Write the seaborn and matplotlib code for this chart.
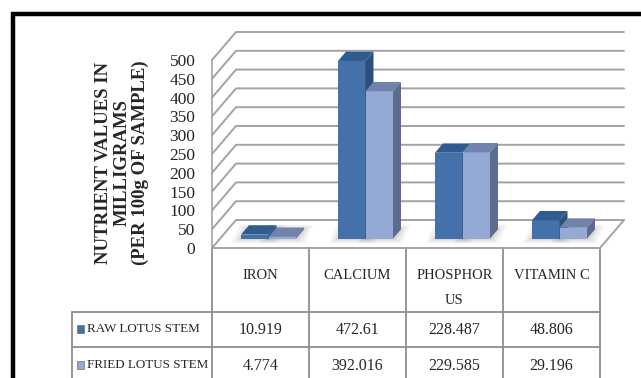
import numpy as np
import pandas as pd
import matplotlib
matplotlib.use("Agg")
import matplotlib.pyplot as plt
import seaborn as sns
from matplotlib.patches import Polygon, Rectangle

# ---- data -------------------------------------------------------------
nutrients = ["IRON", "CALCIUM", "PHOSPHORUS", "VITAMIN C"]
header_labels = ["IRON", "CALCIUM", "PHOSPHOR\nUS", "VITAMIN C"]
series = ["RAW LOTUS STEM", "FRIED LOTUS STEM"]
raw_values = [10.919, 472.61, 228.487, 48.806]
fried_values = [4.774, 392.016, 229.585, 29.196]
y_ticks = list(range(0, 501, 50))
y_label = "NUTRIENT VALUES IN\nMILLIGRAMS\n(PER 100g OF SAMPLE)"

# ---- style ------------------------------------------------------------
sns.set_style("white")
plt.rcParams["font.family"] = ["Liberation Serif", "DejaVu Serif"]

front_colors = ["#4471A9", "#94A9D4"]
top_colors = ["#2F5B90", "#7083AA"]
side_colors = ["#2C4F7E", "#5C6C8E"]
grid_color = "#A3A3A3"
table_color = "#8E8E8E"

W, H = 641, 378
fig = plt.figure(figsize=(W / 100, H / 100), dpi=100)


def px_axes(x0, y_top, x1, y_bot, z):
    ax = fig.add_axes([x0 / W, 1 - y_bot / H, (x1 - x0) / W, (y_bot - y_top) / H])
    ax.set_zorder(z)
    ax.patch.set_visible(False)
    return ax


# background layer in pixel coordinates (frame, table, titles)
bg = fig.add_axes([0, 0, 1, 1])
bg.set_xlim(0, W)
bg.set_ylim(H, 0)
bg.axis("off")
bg.set_zorder(0)

# geometry of the pseudo-3D box
left, right, base, top = 212, 600, 248, 60      # front plane of the walls
depth_x, depth_y = 24, 28                        # full depth of the floor
bar_depth = 1 / 3                                # bars sit in the middle third
n = len(nutrients)
ymax = y_ticks[-1]

# ---- front axis with ticks and the back-wall gridlines ----------------
ax_front = px_axes(left, top, right, base, 1)
ax_front.set_xlim(-0.5, n - 0.5)
ax_front.set_ylim(0, ymax)
ax_front.set_xticks([])
ax_front.set_yticks(y_ticks)
ax_front.tick_params(axis="y", length=4, width=1.2, color=grid_color, pad=8,
                     labelsize=12.5)
for s in ["top", "right", "bottom"]:
    ax_front.spines[s].set_visible(False)
ax_front.spines["left"].set_color(grid_color)
ax_front.spines["left"].set_linewidth(1.2)

ux = (n / (right - left))               # category units per pixel
uy = (ymax / (base - top))              # value units per pixel
dxf, dyf = depth_x * ux, depth_y * uy
for v in y_ticks:
    ax_front.plot([-0.5, -0.5 + dxf, n - 0.5 + dxf], [v, v + dyf, v + dyf],
                  color=grid_color, lw=1.4, clip_on=False, zorder=1)
ax_front.plot([-0.5, n - 0.5, n - 0.5 + dxf], [0, 0, dyf],
              color=grid_color, lw=1.4, clip_on=False, zorder=1)

# ---- bars -------------------------------------------------------------
bx, by = depth_x * bar_depth, depth_y * bar_depth
ax_bar = px_axes(left + bx, top - by, right + bx, base - by, 2)
df = pd.DataFrame({
    "nutrient": nutrients * 2,
    "series": [series[0]] * n + [series[1]] * n,
    "value": raw_values + fried_values,
})
sns.barplot(data=df, x="nutrient", y="value", hue="series", palette=front_colors,
            width=55 / 97, gap=0, saturation=1, linewidth=0, errorbar=None,
            legend=False, ax=ax_bar)
ax_bar.set_xlim(-0.5, n - 0.5)
ax_bar.set_ylim(0, ymax)
ax_bar.axis("off")

ddx, ddy = bx * ux, by * uy
for i, cont in enumerate(ax_bar.containers):
    for p in cont.patches:
        x0, w, h = p.get_x(), p.get_width(), p.get_height()
        p.set_zorder(3 + i)
        # soft floor shadow
        for e, a in [(9, 0.05), (6, 0.06), (3, 0.08)]:
            ex, ey = e * ux, e * 0.5 * uy
            ax_bar.add_patch(Polygon(
                [(x0 - ex, -ey), (x0 + w + ex, -ey),
                 (x0 + w + ddx + ex, ddy + ey), (x0 + ddx - ex, ddy + ey)],
                closed=True, facecolor="#303030", edgecolor="none", alpha=a,
                zorder=2, clip_on=False))
        ax_bar.add_patch(Polygon(
            [(x0, h), (x0 + w, h), (x0 + w + ddx, h + ddy), (x0 + ddx, h + ddy)],
            closed=True, facecolor=top_colors[i], edgecolor="none",
            zorder=3 + i, clip_on=False))
        ax_bar.add_patch(Polygon(
            [(x0 + w, 0), (x0 + w + ddx, ddy), (x0 + w + ddx, h + ddy), (x0 + w, h)],
            closed=True, facecolor=side_colors[i], edgecolor="none",
            zorder=3 + i, clip_on=False))

# ---- axis title -------------------------------------------------------
bg.text(122, 163, y_label, rotation=90, ha="center", va="center",
        fontsize=13.5, fontweight="bold", linespacing=1.08)

# ---- frame ------------------------------------------------------------
bg.plot([12.5, 12.5, W + 5], [H + 5, 14, 14], color="black", lw=3.2,
        solid_joinstyle="miter", clip_on=False)

# ---- data table -------------------------------------------------------
col_w = (right - left) / n
edges = [left + k * col_w for k in range(n + 1)]
label_left = 72
row_tops = [312, 347]
row_centers = [329.5, 365.5]
for x in edges:
    bg.plot([x, x], [base, H + 5], color=table_color, lw=1.3, clip_on=False)
bg.plot([label_left, label_left], [row_tops[0], H + 5], color=table_color, lw=1.3,
        clip_on=False)
for y in row_tops:
    bg.plot([label_left, right], [y, y], color=table_color, lw=1.3)

for k, lab in enumerate(header_labels):
    bg.text(edges[k] + col_w / 2, 269, lab, ha="center", va="top",
            fontsize=10.5, linespacing=2.15)

for r, (name, vals) in enumerate(zip(series, [raw_values, fried_values])):
    yc = row_centers[r]
    bg.add_patch(Rectangle((77, yc - 4.5), 7, 8, facecolor=front_colors[r],
                           edgecolor="#6F6F6F", lw=0.5))
    bg.text(87, yc, name, ha="left", va="center", fontsize=9.4)
    for k, v in enumerate(vals):
        bg.text(edges[k] + col_w / 2, yc, f"{v:g}", ha="center", va="center",
                fontsize=11.5)

fig.savefig("out.png", dpi=100)
